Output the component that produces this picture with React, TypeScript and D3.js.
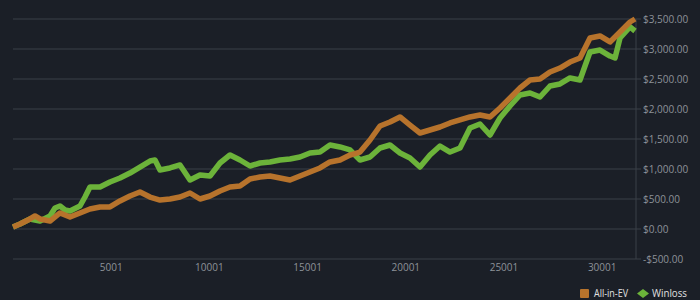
import React from "react";
import * as d3 from "d3";

const evHands = [1, 357, 866, 1121, 1375, 1885, 2394, 2903, 3412, 3921, 4431, 4940, 5449, 5958, 6467, 6977, 7486, 7995, 8504, 9013, 9523, 10032, 10541, 11050, 11559, 12069, 12578, 13087, 13596, 14105, 14615, 15124, 15633, 16142, 16651, 17161, 17670, 18179, 18688, 19197, 19707, 20216, 20725, 21234, 21743, 22253, 22762, 23271, 23780, 24289, 24799, 25308, 25817, 26326, 26835, 27345, 27854, 28363, 28872, 29381, 29891, 30400, 30909, 31418, 31673];
const evValues = [33, 83, 167, 217, 167, 133, 267, 200, 267, 333, 367, 367, 467, 550, 617, 533, 483, 500, 533, 600, 500, 550, 633, 700, 717, 833, 867, 883, 850, 817, 883, 950, 1017, 1117, 1150, 1233, 1283, 1483, 1717, 1783, 1867, 1733, 1600, 1650, 1700, 1767, 1817, 1867, 1900, 1867, 2017, 2183, 2350, 2483, 2500, 2617, 2683, 2783, 2850, 3183, 3217, 3117, 3283, 3450, 3500];

const wlHands = [1, 357, 866, 1375, 1885, 2140, 2394, 2649, 2903, 3412, 3667, 3921, 4431, 4940, 5449, 5958, 6467, 6977, 7231, 7486, 7995, 8504, 9013, 9523, 10032, 10541, 11050, 11559, 12069, 12578, 13087, 13596, 14105, 14615, 15124, 15633, 16142, 16651, 17161, 17670, 18179, 18688, 19197, 19707, 20216, 20725, 21234, 21743, 22253, 22762, 23271, 23780, 24289, 24799, 25308, 25817, 26326, 26835, 27345, 27854, 28363, 28872, 29381, 29891, 30400, 30655, 30909, 31418, 31673];
const wlValues = [33, 83, 167, 133, 217, 350, 383, 317, 300, 383, 533, 700, 700, 783, 850, 933, 1033, 1133, 1150, 983, 1017, 1067, 817, 900, 883, 1100, 1233, 1150, 1050, 1100, 1117, 1150, 1167, 1200, 1267, 1283, 1400, 1367, 1317, 1150, 1200, 1350, 1400, 1267, 1183, 1033, 1233, 1383, 1283, 1350, 1683, 1750, 1567, 1850, 2050, 2233, 2267, 2200, 2383, 2417, 2517, 2483, 2950, 2983, 2883, 2850, 3183, 3367, 3300];

const xTicks = [5001, 10001, 15001, 20001, 25001, 30001];
const yTicks = [-500, 0, 500, 1000, 1500, 2000, 2500, 3000, 3500];
const seriesNames = ["All-in-EV", "Winloss"];
const xTitle = "Number of Hands";

const W = 700;
const H = 300;
const BG = "#1b1f27";
const GRID = "#3b4049";
const TEXT = "#8d9299";
const ORANGE = "#b7732c";
const GREEN = "#6cb33a";
const FONT = "'Open Sans', 'Noto Sans', sans-serif";

export default function App() {
  const x = d3.scaleLinear().domain([1, 31723]).range([13, 636]);
  const y = d3.scaleLinear().domain([-500, 3500]).range([259, 19]);
  const fmt = (v: number) => (v < 0 ? "-" : "") + "$" + d3.format(",.2f")(Math.abs(v));

  const ev = evHands.map((h, i) => [h, evValues[i]] as [number, number]);
  const wl = wlHands.map((h, i) => [h, wlValues[i]] as [number, number]);
  const line = d3
    .line<[number, number]>()
    .x((d) => x(d[0]))
    .y((d) => y(d[1]));

  return (
    <svg
      width={W}
      height={H}
      style={{ position: "fixed", left: 0, top: 0, display: "block", background: BG }}
    >
      <rect x={0} y={0} width={W} height={H} fill={BG} />
      {yTicks.map((t) => (
        <g key={t}>
          <line x1={13} x2={641} y1={y(t)} y2={y(t)} stroke={GRID} strokeWidth={1} />
          <text x={643} y={y(t) + 3.5} fill={TEXT} fontSize={10} fontFamily={FONT}>
            {fmt(t)}
          </text>
        </g>
      ))}
      <line x1={636} x2={636} y1={y(3500)} y2={y(-500)} stroke={GRID} strokeWidth={1} />
      {xTicks.map((t) => (
        <text key={t} x={x(t)} y={271} fill={TEXT} fontSize={10} fontFamily={FONT} textAnchor="middle">
          {t}
        </text>
      ))}
      <path d={line(wl) || ""} fill="none" stroke={GREEN} strokeWidth={5.5} strokeLinejoin="round" />
      <path d={line(ev) || ""} fill="none" stroke={ORANGE} strokeWidth={5.5} strokeLinejoin="round" />
      <g>
        <rect x={580} y={289} width={9} height={9} rx={1} fill={ORANGE} />
        <text x={594} y={297} fill="#e0e0e0" fontSize={10.5} fontFamily={FONT} textLength={34} lengthAdjust="spacingAndGlyphs">
          {seriesNames[0]}
        </text>
        <path d="M637,293.5 L643,289 L649,293.5 L643,298 Z" fill={GREEN} />
        <text x={652} y={297} fill="#e0e0e0" fontSize={10.5} fontFamily={FONT} textLength={35} lengthAdjust="spacingAndGlyphs">
          {seriesNames[1]}
        </text>
      </g>
      <text x={343} y={309} fill={TEXT} fontSize={11} fontFamily={FONT} textAnchor="middle">
        {xTitle}
      </text>
    </svg>
  );
}
